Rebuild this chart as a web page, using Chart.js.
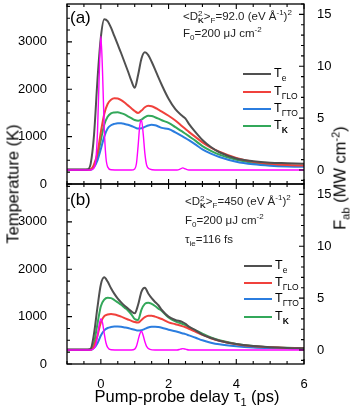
<!DOCTYPE html>
<html>
<head>
<meta charset="utf-8">
<script src="https://cdn.jsdelivr.net/npm/chart.js@4.4.0/dist/chart.umd.min.js"></script>
<style>
  body { margin: 0; background: #fff; }
  #wrap { position: relative; width: 354px; height: 408px; overflow: hidden; font-family: "Liberation Sans", Arial, sans-serif; color: #000; }
  canvas { position: absolute; left: 0; }
  .t { position: absolute; white-space: nowrap; }
  .note { font-size: 11.5px; color: #222; line-height: 14px; }
  .note sub, .note sup { font-size: 8px; line-height: 0; }
  .ss { display: inline-block; font-size: 8px; line-height: 7px; vertical-align: -3px; }
  .ss span { display: block; }
  .lg { font-size: 12.5px; line-height: 14px; }
  .lg sub { font-size: 8.5px; line-height: 0; }
  .ln { position: absolute; width: 28px; height: 2px; }
  .rot { transform: translate(-50%, -50%) rotate(-90deg); font-size: 16.5px; }
  .rot sub, .rot sup, .xt sub { font-size: 11px; line-height: 0; }
</style>
</head>
<body>
<div id="wrap">
  <canvas id="panelA" width="354" height="192" style="top:0"></canvas>
  <canvas id="panelB" width="354" height="228" style="top:180px"></canvas>

  <div class="t" style="left:70px;top:8px;font-size:17px">(a)</div>
  <div class="t" style="left:70px;top:190px;font-size:17px">(b)</div>

  <div class="t note" style="left:183px;top:9px">&lt;D<span class="ss"><span>2</span><span><b>K</b></span></span>&gt;<sub>F</sub>=92.0 (eV Å<sup>-1</sup>)<sup>2</sup></div>
  <div class="t note" style="left:183px;top:26px">F<sub>0</sub>=200 μJ cm<sup>-2</sup></div>

  <div class="t note" style="left:185px;top:194px">&lt;D<span class="ss"><span>2</span><span><b>K</b></span></span>&gt;<sub>F</sub>=450 (eV Å<sup>-1</sup>)<sup>2</sup></div>
  <div class="t note" style="left:185px;top:213px">F<sub>0</sub>=200 μJ cm<sup>-2</sup></div>
  <div class="t note" style="left:185px;top:232px">τ<sub>ie</sub>=116 fs</div>

  <div id="legA"></div>
  <div id="legB"></div>

  <div class="t rot" style="left:13px;top:184px">Temperature (K)</div>
  <div class="t rot" style="left:340px;top:178px">F<sub>ab</sub> (MW cm<sup>-2</sup>)</div>
  <div class="t xt" style="left:187px;top:396px;transform:translate(-50%,-50%);font-size:16.5px">Pump-probe delay τ<sub>1</sub> (ps)</div>
</div>

<script>
// delay grid (ps) used by the temperature curves
const delay = [-1, -0.5, -0.4, -0.3, -0.2, -0.1, 0, 0.1, 0.2, 0.3, 0.4, 0.5, 0.6, 0.7, 0.8, 0.9, 1.0, 1.1, 1.2, 1.3, 1.4, 1.5, 1.6, 1.7, 1.8, 2.0, 2.2, 2.4, 2.5, 2.6, 2.8, 3.0, 3.25, 3.5, 4.0, 4.5, 5.0, 5.5, 6.0];

// panel (a) temperatures (K)
const teA = [300,300,305,430,1050,2200,3100,3480,3440,3300,3120,2940,2760,2570,2380,2180,2030,2300,2650,2780,2720,2580,2420,2250,2090,1800,1580,1440,1380,1270,1090,930,780,670,540,480,450,440,430];
const loA = [300,300,300,310,420,650,1100,1480,1690,1780,1810,1805,1770,1720,1660,1600,1540,1500,1550,1620,1650,1640,1610,1570,1530,1440,1340,1220,1160,1100,990,880,770,680,550,470,425,400,390];
const toA = [300,300,300,302,360,500,740,1000,1170,1240,1270,1285,1282,1268,1250,1225,1195,1170,1175,1205,1235,1250,1240,1215,1185,1160,1090,1010,970,925,830,730,640,570,470,415,385,370,365];
const kA  = [300,300,300,305,380,580,930,1250,1420,1490,1510,1515,1495,1470,1430,1390,1350,1335,1360,1410,1440,1435,1410,1380,1345,1290,1200,1110,1060,1010,910,800,700,620,510,445,410,390,380];

// panel (b) temperatures (K)
const teB = [300,300,300,320,650,1200,1680,1830,1740,1600,1480,1380,1300,1230,1170,1110,1070,1250,1530,1610,1490,1390,1310,1240,1140,1000,930,890,850,790,710,620,550,490,420,380,355,340,332];
const loB = [300,300,300,302,380,600,880,1010,1045,1055,1045,1025,1000,970,940,910,885,875,930,990,1020,1020,1000,975,950,880,840,800,775,745,680,615,545,490,415,375,352,338,330];
const toB = [300,300,300,300,340,440,600,710,760,780,790,790,785,772,758,740,722,705,712,740,770,785,788,780,765,725,690,650,630,605,555,500,450,415,375,350,337,330,326];
const kB  = [300,300,300,305,450,850,1220,1360,1400,1390,1350,1300,1250,1190,1130,1050,950,930,1150,1270,1295,1270,1225,1170,1120,980,900,850,820,780,710,640,560,500,425,382,356,341,333];

// absorbed pump flux F_ab (MW cm^-2)
const pumpDelay = [-1, -0.3, -0.2, -0.15, -0.1, -0.05, 0, 0.05, 0.1, 0.15, 0.2, 0.3, 0.9, 1.0, 1.05, 1.1, 1.15, 1.2, 1.25, 1.3, 1.35, 1.45, 1.6, 2.25, 2.35, 2.42, 2.5, 2.6, 6];
const pumpA = [0,0,0.2,0.9,3.6,9.0,12.9,9.4,4.0,1.2,0.3,0.03,0,0.1,0.6,2.3,4.3,4.8,3.5,1.6,0.5,0.08,0,0,0.1,0.2,0.1,0,0];
const pumpB = [0,0,0.15,0.5,1.3,2.4,3.0,2.6,1.6,0.7,0.25,0.03,0,0.08,0.35,0.95,1.55,1.8,1.4,0.8,0.35,0.06,0,0,0.08,0.13,0.08,0,0];

// tick labels and minor tick spacing of each axis
const delayLabels = [0, 2, 4, 6];
const tempLabels = [0, 1000, 2000, 3000];
const fluxLabels = [0, 5, 10, 15];
const minorStep = { x: 0.5, y: 250, f: 1 };
const axisRange = { x: [-1, 6], y: [0, 3800], f: [-1.35, 16] };
const majorLabels = { x: delayLabels, y: tempLabels, f: fluxLabels };

const legendNames = ['T<sub>e</sub>', 'T<sub>ΓLO</sub>', 'T<sub>ΓTO</sub>', 'T<sub><b>K</b></sub>'];
const colors = ['#505050', '#f0413c', '#2b7ddf', '#33a85a'];
const pumpColor = '#ff00ff';

const font = { family: '"Liberation Sans", Arial, sans-serif', size: 13 };

function isLabel(id, v) {
  return majorLabels[id].some(m => Math.abs(m - v) < 1e-6);
}

// minor + major tick positions along each axis
function buildTicks(s) {
  const id = s.id, st = minorStep[id];
  const [lo, hi] = axisRange[id];
  const out = [];
  for (let v = Math.ceil(lo / st) * st; v <= hi + 1e-9; v += st) out.push({ value: Math.round(v * 1000) / 1000 });
  s.ticks = out;
}

// fixed axis sizes so both panels line up; drop chart.js label padding
function fixFit(s, w, h) {
  if (w !== null) s.width = w;
  if (h !== null) s.height = h;
  s.paddingTop = 0; s.paddingBottom = 0; s.paddingLeft = 0; s.paddingRight = 0;
}

// frame around the plot + inward tick marks
const framePlugin = {
  id: 'frame',
  afterDraw(chart) {
    const ctx = chart.ctx;
    const a = chart.chartArea;
    ctx.save();
    ctx.strokeStyle = '#000';
    ctx.lineWidth = 1.3;
    ctx.strokeRect(a.left, a.top, a.right - a.left, a.bottom - a.top);
    ctx.lineWidth = 1.1;
    ctx.beginPath();
    Object.values(chart.scales).forEach(s => {
      s.ticks.forEach(t => {
        const len = isLabel(s.id, t.value) ? 5 : 3;
        const p = s.getPixelForValue(t.value);
        if (s.id === 'x') {
          ctx.moveTo(p, a.bottom); ctx.lineTo(p, a.bottom - len);
          ctx.moveTo(p, a.top); ctx.lineTo(p, a.top + len);
        } else if (s.id === 'y') {
          ctx.moveTo(a.left, p); ctx.lineTo(a.left + len, p);
        } else {
          ctx.moveTo(a.right, p); ctx.lineTo(a.right - len, p);
        }
      });
    });
    ctx.stroke();
    ctx.restore();
  }
};

function makePanel(id, temps, pump, bottom) {
  const datasets = [{
    label: 'F',
    data: pumpDelay.map((x, i) => ({ x: x, y: pump[i] })),
    borderColor: pumpColor,
    borderWidth: 1.4,
    yAxisID: 'f'
  }];
  temps.forEach((vals, k) => {
    datasets.push({
      label: 'T' + k,
      data: delay.map((x, i) => ({ x: x, y: vals[i] })),
      borderColor: colors[k],
      borderWidth: 2,
      yAxisID: 'y'
    });
  });

  return new Chart(document.getElementById(id), {
    type: 'line',
    data: { datasets: datasets },
    options: {
      responsive: false,
      animation: false,
      devicePixelRatio: 1,
      layout: { autoPadding: false, padding: { top: 4, left: 0, right: 0, bottom: 0 } },
      elements: { point: { radius: 0 }, line: { cubicInterpolationMode: 'monotone' } },
      plugins: { legend: { display: false }, tooltip: { enabled: false } },
      scales: {
        x: {
          type: 'linear', min: axisRange.x[0], max: axisRange.x[1],
          grid: { display: false }, border: { display: false },
          ticks: {
            display: bottom, autoSkip: false, maxRotation: 0,
            padding: 5, color: '#000', font: font,
            callback: v => isLabel('x', v) ? v : ''
          },
          afterBuildTicks: buildTicks,
          afterFit: s => fixFit(s, null, bottom ? 44 : 8)
        },
        y: {
          position: 'left', min: axisRange.y[0], max: axisRange.y[1],
          grid: { display: false }, border: { display: false },
          ticks: {
            autoSkip: false, padding: 12, color: '#000', font: font,
            callback: v => isLabel('y', v) ? v : ''
          },
          afterBuildTicks: buildTicks,
          afterFit: s => fixFit(s, 67, null)
        },
        f: {
          position: 'right', min: axisRange.f[0], max: axisRange.f[1],
          grid: { display: false }, border: { display: false },
          ticks: {
            autoSkip: false, padding: 5, color: '#000', font: font,
            callback: v => isLabel('f', v) ? v : ''
          },
          afterBuildTicks: buildTicks,
          afterFit: s => fixFit(s, 50, null)
        }
      }
    },
    plugins: [framePlugin]
  });
}

makePanel('panelA', [teA, loA, toA, kA], pumpA, false);
makePanel('panelB', [teB, loB, toB, kB], pumpB, true);

// legends (text needs sub/superscripts, so plain html)
function legend(elId, x, rows) {
  const el = document.getElementById(elId);
  rows.forEach((y, k) => {
    const line = document.createElement('div');
    line.className = 'ln';
    line.style.left = x + 'px';
    line.style.top = (y - 1) + 'px';
    line.style.background = colors[k];
    el.appendChild(line);
    const txt = document.createElement('div');
    txt.className = 't lg';
    txt.style.left = (x + 31) + 'px';
    txt.style.top = (y - 8) + 'px';
    txt.innerHTML = legendNames[k];
    el.appendChild(txt);
  });
}
legend('legA', 243, [74, 92, 109, 126]);
legend('legB', 244, [266, 283, 299, 317]);
</script>
</body>
</html>
